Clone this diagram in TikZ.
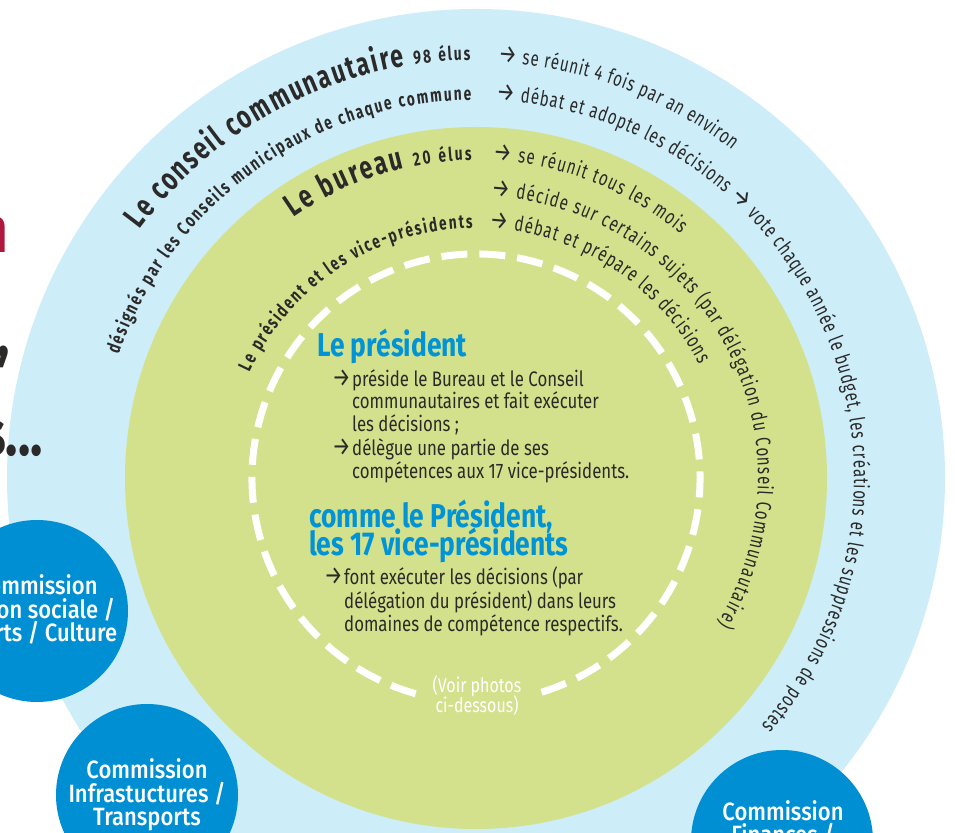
\documentclass[tikz,border=0pt]{standalone}
\usepackage{fontspec}
\setmainfont{Fira Sans}[FakeStretch=0.8]
\newfontfamily\arcfont{Fira Sans}[FakeStretch=0.72]
\newfontfamily\mifont{Fira Sans Medium}[FakeStretch=0.88]
\usetikzlibrary{decorations.text}

\definecolor{ciel}{HTML}{CDEDF9}
\definecolor{pomme}{HTML}{D4E18C}
\definecolor{bleu}{HTML}{008FD3}
\definecolor{titre}{HTML}{0093D6}
\definecolor{encre}{HTML}{2B2A29}
\definecolor{rouge}{HTML}{B0173C}

\newcommand{\grand}{\color{encre}\arcfont\bfseries\fontsize{32}{32}\selectfont}
\newcommand{\moyen}{\color{encre}\arcfont\bfseries\fontsize{19}{19}\selectfont}
\newcommand{\menu}{\color{encre}\arcfont\bfseries\fontsize{19}{19}\selectfont}
\newcommand{\courant}{\color{encre}\arcfont\mdseries\fontsize{21}{21}\selectfont}
\newcommand{\fleche}{\color{encre}\mdseries\fontsize{26}{26}\selectfont}

\tikzset{
  arctxt/.style={decorate, decoration={text along path, text align={fit to path}}},
  pointille/.style={white, line width=7pt, dash pattern=on 26pt off 12pt},
  commission/.style={circle, fill=bleu, minimum size=182pt, inner sep=0pt,
    text=white, align=center, font=\mifont\fontsize{25}{23.5}\selectfont},
  comtxt/.style={anchor=base, text=white, font=\mifont\fontsize{25}{23.5}\selectfont},
  chapo/.style={anchor=base west, inner sep=0pt, text=titre, font=\bfseries\fontsize{33}{33}\selectfont},
  puce/.style={anchor=base west, text=encre, inner sep=0pt, font=\fontsize{21}{23}\selectfont},
  flechepuce/.style={puce, font=\fontsize{26}{23}\selectfont},
  photos/.style={anchor=base, text=white, inner sep=0pt, font=\fontsize{20}{20}\selectfont},
  bout/.style={anchor=base east, inner sep=0pt, font=\bfseries\fontsize{64}{64}\selectfont}
}

\begin{document}
\begin{tikzpicture}[x=1pt, y=1pt]
  \useasboundingbox (0,0) rectangle (955,832);
  \clip (0,0) rectangle (955,832);
  \fill[white] (0,0) rectangle (955,832);
  \coordinate (ctr) at (476,354);

  % the three rings
  \fill[ciel] (ctr) circle[radius=469];
  \fill[pomme] (ctr) circle[radius=351];
  \draw[pointille] (ctr) ++(-73:224) arc[start angle=-73, end angle=255, radius=224];

  % left half: titles
  \path[arctxt, decoration={text={|\grand|Le conseil communautaire |\moyen|98 élus}}]
    (ctr) ++(143.5:418) arc[start angle=143.5, end angle=90.8, radius=418];
  \path[arctxt, decoration={text={|\menu|désignés par les Conseils municipaux de chaque commune}}]
    (ctr) ++(161:378) arc[start angle=161, end angle=90.8, radius=378];
  \path[arctxt, decoration={text={|\grand|Le bureau |\moyen|20 élus}}]
    (ctr) ++(125:318) arc[start angle=125, end angle=90.8, radius=318];
  \path[arctxt, decoration={text={|\menu|Le président et les vice-présidents}}]
    (ctr) ++(155:250) arc[start angle=155, end angle=90.8, radius=250];

  % right half: tasks
  \path[arctxt, decoration={text={|\fleche|→|\courant| se réunit 4 fois par an environ}}]
    (ctr) ++(87:416) arc[start angle=87, end angle=52, radius=416];
  \path[arctxt, decoration={text={|\fleche|→|\courant| débat et adopte les décisions |\fleche|→|\courant| vote chaque année le budget, les créations et les suppressions de postes}}]
    (ctr) ++(87:378) arc[start angle=87, end angle=-41, radius=378];
  \path[arctxt, decoration={text={|\fleche|→|\courant| se réunit tous les mois}}]
    (ctr) ++(87:318) arc[start angle=87, end angle=50, radius=318];
  \path[arctxt, decoration={text={|\fleche|→|\courant| décide sur certains sujets (par délégation du Conseil Communautaire)}}]
    (ctr) ++(87:282) arc[start angle=87, end angle=-31, radius=282];
  \path[arctxt, decoration={text={|\fleche|→|\courant| débat et prépare les décisions}}]
    (ctr) ++(87:250) arc[start angle=87, end angle=27, radius=250];

  % centre
  \node[chapo] (pres) at (317,475) {Le président};
  \node[flechepuce] (f1) at (332,445) {→};
  \node[puce] (l1) at (352,445) {préside le Bureau et le Conseil};
  \node[puce] (l2) at (352,423) {communautaires et fait exécuter};
  \node[puce] (l3) at (352,400) {les décisions ;};
  \node[flechepuce] (f2) at (332,376) {→};
  \node[puce] (l4) at (352,376) {délègue une partie de ses};
  \node[puce] (l5) at (352,353) {compétences aux 17 vice-présidents.};

  \node[chapo] (vice1) at (309,304) {comme le Président,};
  \node[chapo] (vice2) at (309,276) {les 17 vice-présidents};
  \node[flechepuce] (f3) at (324,247) {→};
  \node[puce] (m1) at (344,247) {font exécuter les décisions (par};
  \node[puce] (m2) at (344,223) {délégation du président) dans leurs};
  \node[puce] (m3) at (344,200) {domaines de compétence respectifs.};

  \node[photos] (voir1) at (477,139) {(Voir photos};
  \node[photos] (voir2) at (477,119) {ci-dessous)};

  % commissions
  \node[commission] (social) at (37,221) {Commission\\Action sociale /\\Sports / Culture};
  \node[commission] (infra) at (147,37) {Commission\\Infrastuctures /\\Transports};
  \node[commission] (fin) at (782,-9) {};
  \node[comtxt] (fin1) at (783,12) {Commission};
  \node[comtxt] (fin2) at (783,-11) {Finances /};

  % bits of the heading on the left edge
  \node[bout, text=rouge] (h1) at (8,579) {n};
  \node[bout, text=encre] (h2) at (10,475) {,};
  \node[bout, text=encre] (h3) at (43,376) {s...};
\end{tikzpicture}
\end{document}
